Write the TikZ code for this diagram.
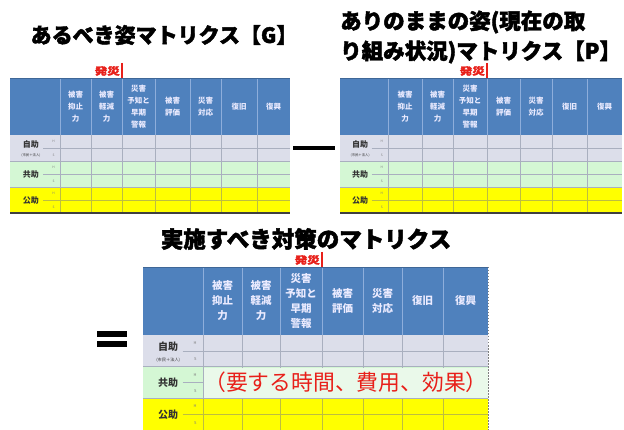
\documentclass[tikz,border=0pt]{standalone}
\usepackage{fontspec}
\setmainfont{Noto Sans CJK JP}
\newfontfamily\ttlfont[BoldFeatures={FakeBold=2}]{Noto Sans CJK JP}
\definecolor{hdrc}{HTML}{4F81BD}
\definecolor{hdrline}{HTML}{8EAEDB}
\definecolor{rowA}{HTML}{DCDEEA}
\definecolor{rowB}{HTML}{D4F7D4}
\definecolor{rowC}{HTML}{FFFF00}
\definecolor{gridc}{HTML}{A9AFBF}
\definecolor{gridy}{HTML}{BDBD40}
\definecolor{redc}{HTML}{E8201A}
\definecolor{labc}{HTML}{333333}
\definecolor{paleg}{HTML}{EAF9EA}
\newcommand\XX[1]{\csname XX#1\endcsname}
\tikzset{
  hline/.style={draw=hdrline, line width=0.6pt},
  bline/.style={draw=gridc, line width=0.5pt},
  yline/.style={draw=gridy, line width=0.5pt},
  htext/.style={text=white!92!blue, align=center, inner sep=0pt, font=\bfseries},
  rlab/.style={text=labc, inner sep=0pt, font=\bfseries},
  hsmark/.style={text=gray, inner sep=0pt},
  redbar/.style={draw=redc, line width=2.6pt},
  redlab/.style={text=redc, inner sep=0pt, font=\bfseries},
  title/.style={text=black, inner sep=0pt},
}
% #1 prefix, #2 x list, #3 y top, #4 y header bottom, #5 row height,
% #6 header font size, #7 header leading, #8 row label font size, #9 marker column
\newcommand\mtab[9]{%
  \foreach \v [count=\i] in {#2} {\expandafter\xdef\csname XX\i\endcsname{\v}}
  \pgfmathsetmacro\ya{#4+#5}
  \pgfmathsetmacro\yb{#4+2*#5}
  \pgfmathsetmacro\yc{#4+3*#5}
  \pgfmathsetmacro\fsub{0.42*#8}
  \pgfmathsetmacro\fmark{0.4*#8}
  \fill[hdrc] (\XX1,#3) rectangle (\XX9,#4);
  \fill[rowA] (\XX1,#4) rectangle (\XX9,\ya);
  \fill[rowB] (\XX1,\ya) rectangle (\XX9,\yb);
  \fill[rowC] (\XX1,\yb) rectangle (\XX9,\yc);
  \foreach \k in {2,...,8} {
    \draw[hline] (\XX\k,#3) -- (\XX\k,#4);
    \draw[bline] (\XX\k,#4) -- (\XX\k,\yb);
    \draw[yline] (\XX\k,\yb) -- (\XX\k,\yc);
  }
  \pgfmathsetmacro\xs{\XX1+0.66*(\XX2-\XX1)}
  \foreach \r in {0,1} {
    \draw[bline] (\xs,{#4+(\r+0.5)*#5}) -- (\XX9,{#4+(\r+0.5)*#5});
    \draw[bline] (\XX1,{#4+(\r+1)*#5}) -- (\XX9,{#4+(\r+1)*#5});
  }
  \draw[yline] (\xs,{#4+2.5*#5}) -- (\XX9,{#4+2.5*#5});
  \draw[draw=hdrc!80!black, line width=0.8pt] (\XX1,#3) -- (\XX9,#3);
  \foreach \t [count=\i] in {{被害\\抑止\\力},{被害\\軽減\\力},{災害\\予知と\\早期\\警報},{被害\\評価},{災害\\対応},{復旧},{復興}} {
    \pgfmathtruncatemacro\j{\i+1}
    \pgfmathtruncatemacro\m{\i+2}
    \node[htext, font=\bfseries\fontsize{#6}{#7}\selectfont] (#1h\i) at ({(\XX\j+\XX\m)/2},{(#3+#4)/2}) {\t};
  }
  \pgfmathsetmacro\xl{\XX1+0.42*(\XX2-\XX1)}
  \pgfmathsetmacro\xm{\XX2-0.13*(\XX2-\XX1)}
  \node[rlab, font=\bfseries\fontsize{#8}{#8}\selectfont] (#1r1) at (\xl,{#4+0.36*#5}) {自助};
  \node[rlab, font=\fontsize{\fsub}{\fsub}\selectfont] (#1r1s) at (\xl,{#4+0.78*#5}) {(市民＋法人)};
  \node[rlab, font=\bfseries\fontsize{#8}{#8}\selectfont] (#1r2) at (\xl,{#4+1.5*#5}) {共助};
  \node[rlab, font=\bfseries\fontsize{#8}{#8}\selectfont] (#1r3) at (\xl,{#4+2.5*#5}) {公助};
  \foreach \r in {0,1,2} {
    \node[hsmark, font=\fontsize{\fmark}{\fmark}\selectfont] (#1mh\r) at (\xm,{#4+(\r+0.25)*#5}) {H};
    \node[hsmark, font=\fontsize{\fmark}{\fmark}\selectfont] (#1ms\r) at (\xm,{#4+(\r+0.77)*#5}) {S};
  }
  \draw[redbar] (\XX#9,{#3-15}) -- (\XX#9,#3);
  \node[redlab, font=\ttlfont\bfseries\fontsize{12.5}{12.5}\selectfont, anchor=east, yscale=0.8] (#1red) at ({\XX#9-2},{#3-7}) {発災};
}
\begin{document}
\begin{tikzpicture}[x=1pt,y=-1pt]
\useasboundingbox (0,0) rectangle (624,430);
\fill[white] (0,0) rectangle (624,430);
% titles
\node[title, font=\ttlfont\bfseries\fontsize{21}{21}\selectfont] (t1) at (164,35) {あるべき姿マトリクス【G】};
\node[title, font=\ttlfont\bfseries\fontsize{21.5}{30}\selectfont, align=left, anchor=west] (t2) at (340,37) {ありのままの姿(現在の取\\り組み状況)マトリクス【P】};
\node[title, font=\ttlfont\bfseries\fontsize{22.5}{22.5}\selectfont] (t3) at (306,239) {実施すべき対策のマトリクス};
% tables
\mtab{a}{10,60,91,122,155,190,221,257,290}{78}{135}{26}{7.5}{12}{8}{4}
\draw[draw=black!75, line width=1.4pt] (10,213) -- (290,213);
\mtab{b}{340,388,422,453,487,520,552,587,622}{78}{135}{26}{7.5}{12}{8}{5}
\draw[draw=black!75, line width=1.4pt] (340,213) -- (622,213);
\mtab{c}{143,203,242,280,322,363,402,443,488}{267}{335}{31.7}{10.5}{15}{10}{5}
\draw[draw=gray, line width=0.8pt, dash pattern=on 1.5pt off 1.5pt] (488,267) -- (488,430);
% result annotation
\node[fill=paleg, minimum width=282pt, minimum height=30pt, inner sep=0pt, text=redc, font=\fontsize{21.8}{21.8}\selectfont] (cost) at (346,382.6) {（要する時間、費用、効果）};
% minus and equals signs
\fill[black] (293,146) rectangle (335,150);
\fill[black] (97,331) rectangle (127,337);
\fill[black] (97,341) rectangle (127,347);
\end{tikzpicture}
\end{document}
